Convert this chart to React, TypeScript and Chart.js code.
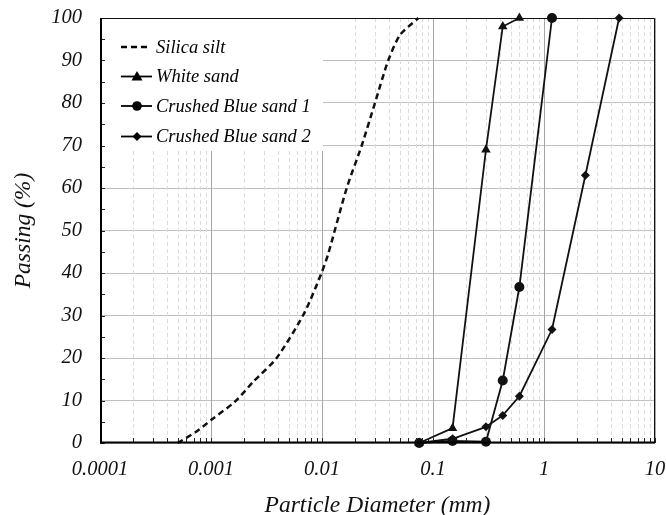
import { useEffect, useRef } from "react";
import { Chart, registerables } from "chart.js";
Chart.register(...registerables);

const silicaX = [0.0005, 0.00074, 0.001, 0.00164, 0.0024, 0.0039, 0.0069, 0.0099, 0.0114, 0.0167, 0.0228, 0.03, 0.0395, 0.0505, 0.0738];
const silicaY = [0, 2.7, 5.4, 9.7, 14.4, 20, 30.5, 40, 44.6, 60, 70, 80, 90, 96, 100];
const whiteX = [0.075, 0.15, 0.3, 0.425, 0.6];
const whiteY = [0, 3.5, 69, 98, 100];
const blue1X = [0.075, 0.15, 0.3, 0.425, 0.6, 1.18];
const blue1Y = [0, 0.5, 0.3, 14.7, 36.7, 100];
const blue2X = [0.075, 0.15, 0.3, 0.425, 0.6, 1.18, 2.36, 4.75];
const blue2Y = [0, 1, 3.8, 6.5, 11, 26.7, 63, 100];
const seriesNames = ["Silica silt", "White sand", "Crushed Blue sand 1", "Crushed Blue sand 2"];
const xTickLabels = ["0.0001", "0.001", "0.01", "0.1", "1", "10"];
const yTicks = [0, 10, 20, 30, 40, 50, 60, 70, 80, 90, 100];

const FONT = "'Liberation Serif', 'Times New Roman', serif";

const pts = (xs: number[], ys: number[]) => xs.map((x, i) => ({ x, y: ys[i] }));

const decades = xTickLabels.map((s) => parseFloat(s));
const allXTicks: number[] = [];
for (let d = 0; d < decades.length - 1; d++) {
  for (let k = 1; k <= 9; k++) allXTicks.push(+(k * decades[d]).toPrecision(3));
}
allXTicks.push(decades[decades.length - 1]);
const isDecade = (v: number) => decades.some((d) => Math.abs(v - d) / d < 1e-6);

const styles = [
  { pointStyle: false as any, radius: 0, dash: [6, 4], width: 2.5 },
  { pointStyle: "triangle", radius: 5.5, dash: [], width: 1.8 },
  { pointStyle: "circle", radius: 5, dash: [], width: 1.8 },
  { pointStyle: "rectRot", radius: 4.5, dash: [], width: 1.8 },
];

const decorPlugin = {
  id: "decor",
  beforeDatasetsDraw(chart: any) {
    const { ctx, chartArea: a, scales } = chart;
    const x = scales.x;
    ctx.save();
    ctx.strokeStyle = "#dcdcdc";
    ctx.lineWidth = 1;
    ctx.setLineDash([4, 3]);
    allXTicks.forEach((v) => {
      if (isDecade(v)) return;
      const px = Math.round(x.getPixelForValue(v)) + 0.5;
      ctx.beginPath();
      ctx.moveTo(px, a.top);
      ctx.lineTo(px, a.bottom);
      ctx.stroke();
    });
    ctx.setLineDash([]);
    ctx.strokeStyle = "#a6a6a6";
    allXTicks.forEach((v) => {
      if (!isDecade(v)) return;
      const px = Math.round(x.getPixelForValue(v)) + 0.5;
      ctx.beginPath();
      ctx.moveTo(px, a.top);
      ctx.lineTo(px, a.bottom);
      ctx.stroke();
    });
    ctx.restore();
  },
  afterDatasetsDraw(chart: any) {
    const { ctx, chartArea: a, scales } = chart;
    const x = scales.x;
    const y = scales.y;
    ctx.save();
    // legend box
    ctx.fillStyle = "#ffffff";
    ctx.fillRect(a.left + 1, a.top + 1, 322 - a.left, 150 - a.top);
    // legend rows
    const rowY = [47, 76.5, 106, 136.5];
    ctx.font = `italic 18.5px ${FONT}`;
    ctx.textBaseline = "middle";
    ctx.fillStyle = "#000";
    chart.data.datasets.forEach((ds: any, i: number) => {
      const cy = rowY[i];
      ctx.strokeStyle = "#000";
      ctx.lineWidth = i === 0 ? 2.5 : 1.8;
      ctx.setLineDash(i === 0 ? [6, 4] : []);
      ctx.beginPath();
      ctx.moveTo(121, cy);
      ctx.lineTo(i === 0 ? 148 : 152, cy);
      ctx.stroke();
      ctx.setLineDash([]);
      if (i === 1) {
        ctx.beginPath();
        ctx.moveTo(137, cy - 5.5);
        ctx.lineTo(142.5, cy + 4);
        ctx.lineTo(131.5, cy + 4);
        ctx.closePath();
        ctx.fill();
      } else if (i === 2) {
        ctx.beginPath();
        ctx.arc(137, cy, 4.8, 0, Math.PI * 2);
        ctx.fill();
      } else if (i === 3) {
        ctx.beginPath();
        ctx.moveTo(137, cy - 4.5);
        ctx.lineTo(141.5, cy);
        ctx.lineTo(137, cy + 4.5);
        ctx.lineTo(132.5, cy);
        ctx.closePath();
        ctx.fill();
      }
      ctx.fillText(ds.label, 156, cy + 1);
    });
    // inward ticks
    ctx.strokeStyle = "#222";
    ctx.lineWidth = 1;
    for (let v = 0; v <= 100; v += 5) {
      const py = Math.round(y.getPixelForValue(v)) + 0.5;
      ctx.beginPath();
      ctx.moveTo(a.left, py);
      ctx.lineTo(a.left + 5, py);
      ctx.stroke();
    }
    allXTicks.forEach((v) => {
      const px = Math.round(x.getPixelForValue(v)) + 0.5;
      ctx.beginPath();
      ctx.moveTo(px, a.bottom);
      ctx.lineTo(px, a.bottom - 5);
      ctx.stroke();
    });
    // frame
    ctx.strokeStyle = "#111";
    ctx.lineWidth = 1;
    ctx.beginPath();
    ctx.moveTo(a.left, a.top + 0.5);
    ctx.lineTo(a.right - 0.5, a.top + 0.5);
    ctx.lineTo(a.right - 0.5, a.bottom);
    ctx.stroke();
    ctx.lineWidth = 2;
    ctx.strokeStyle = "#000";
    ctx.beginPath();
    ctx.moveTo(a.left + 1, a.top);
    ctx.lineTo(a.left + 1, a.bottom - 0.5);
    ctx.lineTo(a.right, a.bottom - 0.5);
    ctx.stroke();
    ctx.restore();
  },
};

export default function App() {
  const ref = useRef<HTMLCanvasElement | null>(null);
  useEffect(() => {
    document.body.style.margin = "0";
    const canvas = ref.current!;
    const data = [pts(silicaX, silicaY), pts(whiteX, whiteY), pts(blue1X, blue1Y), pts(blue2X, blue2Y)];
    const chart = new Chart(canvas, {
      type: "line",
      data: {
        datasets: data.map((d, i) => ({
          label: seriesNames[i],
          data: d,
          borderColor: "#111",
          backgroundColor: "#111",
          borderWidth: styles[i].width,
          borderDash: styles[i].dash,
          pointStyle: styles[i].pointStyle,
          pointRadius: styles[i].radius,
          pointBorderWidth: 0,
          tension: i === 0 ? 0.25 : 0,
          fill: false,
          clip: 8,
        })),
      },
      options: {
        animation: false,
        responsive: false,
        maintainAspectRatio: false,
        layout: { padding: { top: 18, right: 11, left: 0, bottom: 0 } },
        plugins: { legend: { display: false }, tooltip: { enabled: false } },
        scales: {
          x: {
            type: "logarithmic",
            min: 0.0001,
            max: 10,
            afterBuildTicks: (s: any) => {
              s.ticks = allXTicks.map((v) => ({ value: v, major: isDecade(v) }));
            },
            afterFit: (s: any) => {
              s.height = 72;
              s.paddingLeft = 0;
              s.paddingRight = 0;
            },
            grid: { display: false, drawTicks: false },
            border: { display: false },
            ticks: {
              autoSkip: false,
              maxRotation: 0,
              padding: 14,
              color: "#111",
              font: { family: FONT, size: 20.5, style: "italic" },
              callback: (v: any) => {
                const n = Number(v);
                const idx = decades.findIndex((d) => Math.abs(n - d) / d < 1e-6);
                return idx >= 0 ? xTickLabels[idx] : "";
              },
            },
            title: {
              display: true,
              text: "Particle Diameter (mm)",
              color: "#111",
              font: { family: FONT, size: 23.5, style: "italic" },
              padding: { top: 0, bottom: -5 },
            },
          },
          y: {
            min: 0,
            max: 100,
            afterBuildTicks: (s: any) => {
              s.ticks = yTicks.map((v) => ({ value: v }));
            },
            afterFit: (s: any) => {
              s.width = 100;
              s.paddingTop = 0;
              s.paddingBottom = 0;
            },
            grid: { color: "#c0c0c0", lineWidth: 1, drawTicks: false },
            border: { display: false },
            ticks: {
              padding: 18,
              color: "#111",
              font: { family: FONT, size: 20.5, style: "italic" },
            },
            title: {
              display: true,
              text: "Passing (%)",
              color: "#111",
              font: { family: FONT, size: 23.5, style: "italic" },
              padding: { top: 10, bottom: 0 },
            },
          },
        },
      },
      plugins: [decorPlugin],
    });
    return () => chart.destroy();
  }, []);
  return <canvas ref={ref} width={666} height={515} style={{ display: "block" }} />;
}
